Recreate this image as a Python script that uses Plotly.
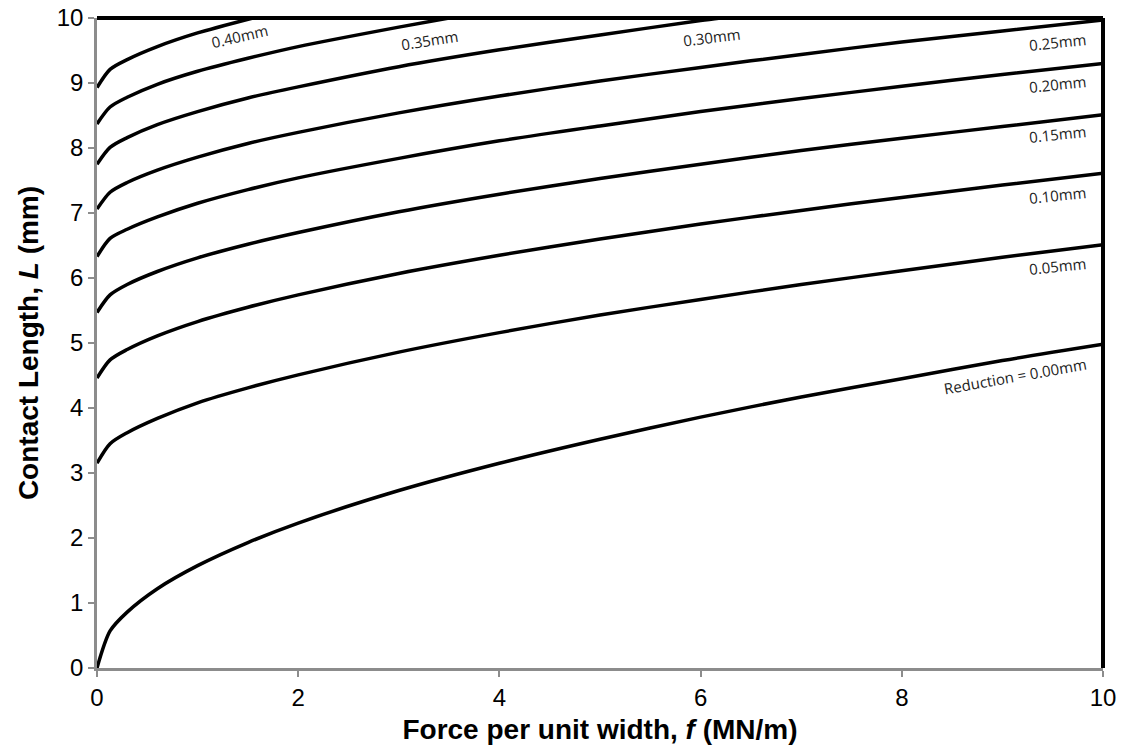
import plotly.graph_objects as go

# Force per unit width f (MN/m) sample positions
force = [0, 0.13, 0.3, 0.6, 1, 1.5, 2, 3, 4, 5, 6, 7, 8, 9, 10]

# Contact length L (mm) for each reduction
L_000 = [0.00, 0.57, 0.86, 1.22, 1.575, 1.93, 2.23, 2.73, 3.15, 3.52, 3.86, 4.17, 4.45, 4.73, 4.98]
L_005 = [3.15, 3.45, 3.62, 3.84, 4.08, 4.31, 4.51, 4.86, 5.16, 5.43, 5.67, 5.90, 6.11, 6.32, 6.51]
L_010 = [4.46, 4.74, 4.90, 5.11, 5.33, 5.55, 5.74, 6.07, 6.35, 6.60, 6.83, 7.04, 7.24, 7.43, 7.61]
L_015 = [5.47, 5.74, 5.90, 6.10, 6.31, 6.52, 6.70, 7.02, 7.29, 7.53, 7.75, 7.96, 8.15, 8.33, 8.51]
L_020 = [6.33, 6.61, 6.75, 6.94, 7.15, 7.36, 7.54, 7.84, 8.11, 8.34, 8.56, 8.76, 8.95, 9.13, 9.30]
L_025 = [7.06, 7.32, 7.47, 7.66, 7.86, 8.07, 8.24, 8.54, 8.80, 9.03, 9.24, 9.44, 9.63, 9.80, 9.97]

force_030 = [0, 0.13, 0.3, 0.6, 1, 1.5, 2, 3, 4, 5, 6, 6.2]
L_030 = [7.75, 8.01, 8.16, 8.36, 8.56, 8.77, 8.94, 9.25, 9.51, 9.74, 9.96, 10.0]

force_035 = [0, 0.13, 0.3, 0.6, 1, 1.5, 2, 3, 3.5]
L_035 = [8.37, 8.63, 8.78, 8.98, 9.18, 9.38, 9.56, 9.86, 10.0]

force_040 = [0, 0.13, 0.3, 0.6, 1, 1.55]
L_040 = [8.93, 9.21, 9.36, 9.56, 9.77, 10.0]

series = [
    (force, L_000), (force, L_005), (force, L_010), (force, L_015),
    (force, L_020), (force, L_025), (force_030, L_030),
    (force_035, L_035), (force_040, L_040),
]

# Curve labels: text, f, L, angle
label_text = ["Reduction = 0.00mm", "0.05mm", "0.10mm", "0.15mm", "0.20mm",
              "0.25mm", "0.30mm", "0.35mm", "0.40mm"]
label_f = [9.13, 9.55, 9.55, 9.55, 9.55, 9.55, 6.11, 3.31, 1.42]
label_L = [4.49, 6.18, 7.28, 8.21, 8.98, 9.63, 9.71, 9.66, 9.72]
label_angle = [-10, -6, -6, -6, -6, -6, -7, -9, -13]

fig = go.Figure()
for fx, ly in series:
    fig.add_trace(go.Scatter(
        x=fx, y=ly, mode="lines",
        line=dict(color="black", width=3.5, shape="spline", smoothing=0.8),
        showlegend=False, hoverinfo="skip",
    ))

for t, fx, ly, ang in zip(label_text, label_f, label_L, label_angle):
    fig.add_annotation(x=fx, y=ly, xref="x", yref="y", text=t, showarrow=False,
                       textangle=ang, font=dict(family="Open Sans", size=15, color="#222"))

axis_common = dict(
    showline=True, linecolor="#8c8c8c", linewidth=2.5,
    ticks="outside", ticklen=6, tickcolor="#8c8c8c", tickwidth=1.5,
    showgrid=False, zeroline=False, automargin=False,
    tickfont=dict(family="Liberation Sans, Arial", size=24, color="black"),
)

fig.update_layout(
    width=1128, height=753,
    margin=dict(l=97, r=25, t=18, b=85),
    paper_bgcolor="white", plot_bgcolor="white",
    xaxis=dict(range=[0, 10], dtick=2, tick0=0,
               title=dict(text="<b>Force per unit width, <i>f</i> (MN/m)</b>", standoff=10,
                          font=dict(family="Liberation Sans, Arial", size=28, color="black")),
               **axis_common),
    yaxis=dict(range=[0, 10], dtick=1, tick0=0,
               title=dict(text="<b>Contact Length, <i>L</i> (mm)</b>", standoff=10,
                          font=dict(family="Liberation Sans, Arial", size=28, color="black")),
               **axis_common),
    shapes=[
        dict(type="line", xref="paper", yref="paper", x0=0, x1=1, y0=1, y1=1,
             line=dict(color="black", width=4)),
        dict(type="line", xref="paper", yref="paper", x0=1, x1=1, y0=0, y1=1,
             line=dict(color="black", width=4)),
    ],
)

fig.write_html("out.html", config={"displayModeBar": False},
               post_script="document.body.style.margin='0';document.body.style.padding='0';")
